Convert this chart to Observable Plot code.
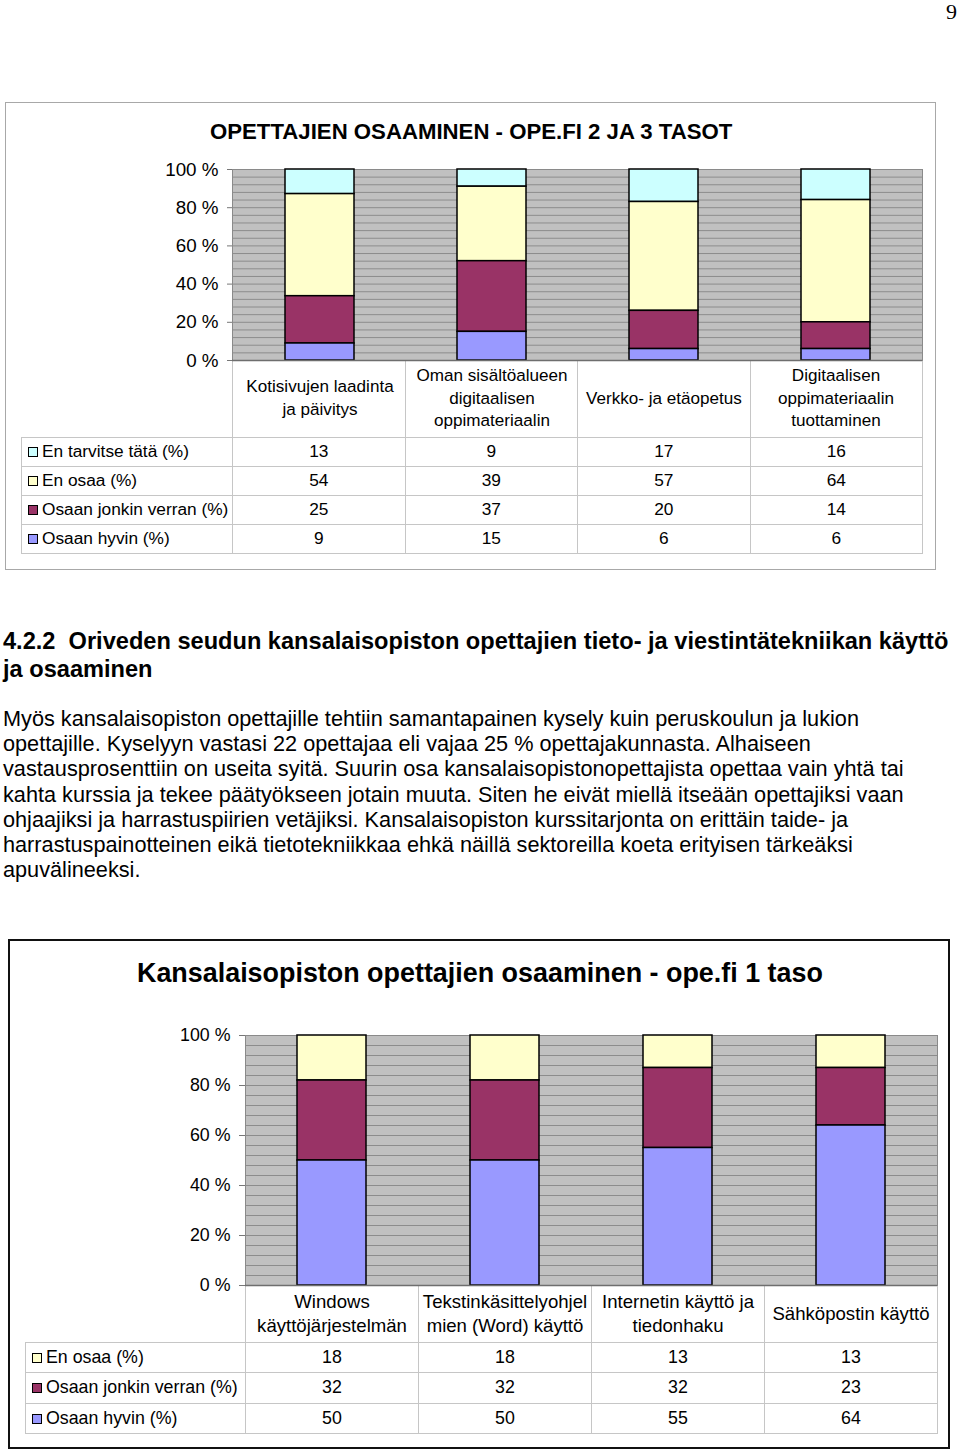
<!DOCTYPE html>
<html><head><meta charset="utf-8">
<script src="https://cdn.jsdelivr.net/npm/d3@7"></script>
<script src="https://cdn.jsdelivr.net/npm/@observablehq/plot@0.6"></script>
<style>
body{margin:0;background:#fff;font-family:"Liberation Sans",Arial,Helvetica,sans-serif;color:#000;}
#page{position:relative;width:960px;height:1451px;overflow:hidden;background:#fff;}
.abs{position:absolute;}
.pnum{left:946px;top:-2px;font-family:"Liberation Serif","Times New Roman",serif;font-size:22px;line-height:28px;}
.frame1{left:5px;top:102px;width:931px;height:468px;border:1.5px solid #a8a8a8;box-sizing:border-box;}
.frame2{left:8px;top:939px;width:942px;height:510px;border:2.5px solid #111;box-sizing:border-box;}
.title1{left:210px;top:120px;font-weight:bold;font-size:22.2px;line-height:24px;white-space:nowrap;}
.title2{left:137px;top:959px;font-weight:bold;font-size:26.9px;line-height:28px;white-space:nowrap;}
.heading{left:3px;top:627px;font-weight:bold;font-size:23.6px;line-height:28px;white-space:nowrap;}
.para{left:3px;top:706px;font-size:21.7px;line-height:25.2px;white-space:nowrap;}
table.dt{position:absolute;border-collapse:collapse;table-layout:fixed;}
table.dt td{border:1px solid #c6c6c6;padding:0;text-align:center;white-space:nowrap;}
table.dt tr.lab td{border-top:none;}
table.dt tr.lab td:first-child{border-left:none;border-top:none;}
table.dt td.rh{text-align:left;padding-left:6px;}
.key{display:inline-block;width:8px;height:8px;border:1px solid #000;margin-right:4px;vertical-align:0px;}
.plotbox{position:absolute;z-index:2;}
</style>
</head>
<body>
<div id="page">
  <div class="abs pnum">9</div>
  <div class="abs frame1"></div>
  <div class="abs title1" id="t1"></div>
  <table class="dt" id="tab1" style="left:21px;top:360px;font-size:17.3px;"></table>
  <div class="plotbox" id="c1" style="left:0;top:150px;"></div>

  <div class="abs heading" id="head"></div>
  <div class="abs para" id="para"></div>

  <div class="abs frame2"></div>
  <div class="abs title2" id="t2"></div>
  <table class="dt" id="tab2" style="left:25px;top:1285px;font-size:17.8px;"></table>
  <div class="plotbox" id="c2" style="left:0;top:1010px;"></div>
</div>
<script>
// ---------- texts ----------
const title1 = "OPETTAJIEN OSAAMINEN - OPE.FI 2 JA 3 TASOT";
const title2 = "Kansalaisopiston opettajien osaaminen - ope.fi 1 taso";
const headingLines = ["4.2.2  Oriveden seudun kansalaisopiston opettajien tieto- ja viestintätekniikan käyttö", "ja osaaminen"];
const paraLines = [
  "Myös kansalaisopiston opettajille tehtiin samantapainen kysely kuin peruskoulun ja lukion",
  "opettajille. Kyselyyn vastasi 22 opettajaa eli vajaa 25 % opettajakunnasta. Alhaiseen",
  "vastausprosenttiin on useita syitä. Suurin osa kansalaisopistonopettajista opettaa vain yhtä tai",
  "kahta kurssia ja tekee päätyökseen jotain muuta. Siten he eivät miellä itseään opettajiksi vaan",
  "ohjaajiksi ja harrastuspiirien vetäjiksi. Kansalaisopiston kurssitarjonta on erittäin taide- ja",
  "harrastuspainotteinen eikä tietotekniikkaa ehkä näillä sektoreilla koeta erityisen tärkeäksi",
  "apuvälineeksi."
];

// ---------- chart 1 data ----------
const categories1 = ["Kotisivujen laadinta\nja päivitys", "Oman sisältöalueen\ndigitaalisen\noppimateriaalin", "Verkko- ja etäopetus", "Digitaalisen\noppimateriaalin\ntuottaminen"];
const series1 = ["En tarvitse tätä (%)", "En osaa (%)", "Osaan jonkin verran (%)", "Osaan hyvin (%)"];
const enTarvitse1 = [13, 9, 17, 16];
const enOsaa1 = [54, 39, 57, 64];
const osaanJonkin1 = [25, 37, 20, 14];
const osaanHyvin1 = [9, 15, 6, 6];

// ---------- chart 2 data ----------
const categories2 = ["Windows\nkäyttöjärjestelmän", "Tekstinkäsittelyohjel\nmien (Word) käyttö", "Internetin käyttö ja\ntiedonhaku", "Sähköpostin käyttö"];
const series2 = ["En osaa (%)", "Osaan jonkin verran (%)", "Osaan hyvin (%)"];
const enOsaa2 = [18, 18, 13, 13];
const osaanJonkin2 = [32, 32, 32, 23];
const osaanHyvin2 = [50, 50, 55, 64];

const seriesColors = ["#ccffff", "#ffffcc", "#993366", "#9999ff"];
const seriesNamesAll = ["En tarvitse tätä (%)", "En osaa (%)", "Osaan jonkin verran (%)", "Osaan hyvin (%)"];
const yTickValues = [0, 0.2, 0.4, 0.6, 0.8, 1];

function colorOf(s){ return seriesColors[seriesNamesAll.indexOf(s)]; }

document.getElementById("t1").textContent = title1;
document.getElementById("t2").textContent = title2;
document.getElementById("head").innerHTML = headingLines.map(l => l.replace(/  /g, "&nbsp; ")).join("<br>");
document.getElementById("para").innerHTML = paraLines.join("<br>");

function makeChart(o) {
  const data = [];
  o.series.forEach((s, si) => o.cats.forEach((c, ci) => data.push({cat: c, series: s, value: o.values[si][ci]})));
  const order = o.series.slice().reverse();
  return Plot.plot({
    width: o.width, height: o.height,
    marginLeft: o.ml, marginRight: o.mr, marginTop: o.mt, marginBottom: o.mb,
    style: {background: "transparent", fontFamily: '"Liberation Sans", Arial, sans-serif', overflow: "visible", color: "#000"},
    x: {domain: o.cats, paddingInner: 0.6, paddingOuter: 0.3, axis: null},
    y: {domain: [0, 1], axis: null},
    color: {domain: o.series, range: o.series.map(colorOf)},
    marks: [
      Plot.frame({fill: "#c0c0c0", stroke: null}),
      Plot.gridY(d3.range(0, 26).map(i => i / 25), {stroke: "#8c8c8c", strokeOpacity: 1, strokeWidth: 1}),
      Plot.frame({stroke: "#8a8a8a", strokeWidth: 1}),
      Plot.barY(data, Plot.stackY({x: "cat", y: "value", z: "series", fill: "series", offset: "normalize", order, stroke: "#000", strokeWidth: 1.5})),
      Plot.ruleY([0], {stroke: "#6e6e6e", strokeWidth: 1.5}),
      Plot.axisY(yTickValues, {label: null, tickFormat: d => Math.round(d * 100) + " %", tickSize: o.tickSize, tickPadding: o.tickPad, fontSize: o.yFont, stroke: "#777"}),
      Plot.axisX({label: null, tickSize: 0, tickPadding: o.labelPad, lineAnchor: "middle", fontSize: o.xFont, lineHeight: o.lineHeight})
    ]
  });
}

document.getElementById("c1").append(makeChart({
  cats: categories1, series: series1, values: [enTarvitse1, enOsaa1, osaanJonkin1, osaanHyvin1],
  width: 935, height: 287, ml: 232, mr: 13, mt: 19, mb: 77,
  tickSize: 5, tickPad: 9, yFont: 18.8, xFont: 17.1, labelPad: 36, lineHeight: 1.32
}));
document.getElementById("c2").append(makeChart({
  cats: categories2, series: series2, values: [enOsaa2, osaanJonkin2, osaanHyvin2],
  width: 948, height: 332, ml: 245, mr: 11, mt: 25, mb: 57,
  tickSize: 6, tickPad: 9, yFont: 17.8, xFont: 18.6, labelPad: 27, lineHeight: 1.29
}));

function makeTable(id, cats, series, values, firstW, colW, labH, rowH) {
  const t = document.getElementById(id);
  let html = `<colgroup><col style="width:${firstW}px">` + cats.map(() => `<col style="width:${colW}px">`).join("") + `</colgroup>`;
  html += `<tr class="lab" style="height:${labH}px"><td></td>` + cats.map(() => `<td></td>`).join("") + `</tr>`;
  series.forEach((s, si) => {
    html += `<tr style="height:${rowH}px"><td class="rh"><span class="key" style="background:${colorOf(s)}"></span>${s}</td>` +
      values[si].map(v => `<td>${v}</td>`).join("") + `</tr>`;
  });
  t.innerHTML = html;
}
makeTable("tab1", categories1, series1, [enTarvitse1, enOsaa1, osaanJonkin1, osaanHyvin1], 211, 172.5, 77, 29);
makeTable("tab2", categories2, series2, [enOsaa2, osaanJonkin2, osaanHyvin2], 220, 173, 57, 30.5);
</script>
</body></html>
